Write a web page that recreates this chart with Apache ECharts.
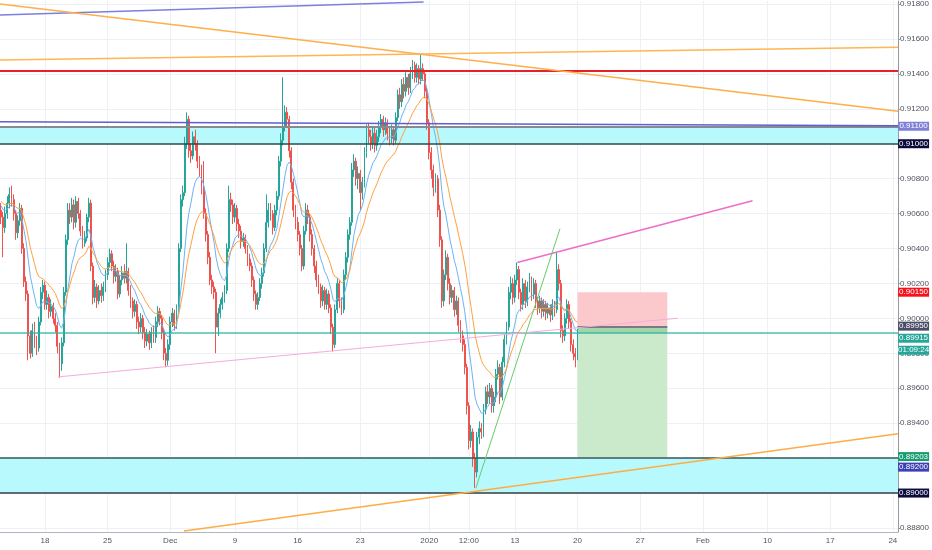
<!DOCTYPE html>
<html><head><meta charset="utf-8">
<script src="https://cdn.jsdelivr.net/npm/echarts@6/dist/echarts.min.js"></script>
<style>html,body{margin:0;padding:0;background:#fff}#c{width:932px;height:550px}</style>
</head><body><div id="c"></div>
<script>
// ---- candle data (4H bars), one bar per slot ----
const closes=[0.9058,0.9052,0.9060,0.9066,0.9071,0.9068,0.9060,0.9049,0.9056,0.9063,
0.9040,0.9021,0.9014,0.8990,0.8980,0.8993,0.8987,0.8983,0.8998,
0.9015,0.9019,0.9008,0.9012,0.9004,0.9007,0.9000,0.8996,0.8984,0.8974,
0.8986,0.9015,0.9045,0.9062,0.9058,0.9065,0.9055,0.9067,0.9060,
0.9050,0.9043,0.9046,0.9058,0.9066,0.9030,0.9012,0.9018,0.9010,0.9016,
0.9013,0.9018,0.9025,0.9032,0.9037,0.9030,0.9024,0.9027,0.9014,
0.9022,0.9026,0.9023,0.9027,0.9016,0.9010,0.9004,0.9008,0.8998,0.8995,
0.9000,0.8992,0.8987,0.8991,0.8986,0.8992,0.8989,0.8998,0.9004,
0.9000,0.8992,0.8980,0.8976,0.8985,0.8998,0.9003,0.8996,0.9005,0.9040,
0.9068,0.9072,0.9100,0.9114,0.9096,0.9093,0.9104,0.9100,0.9090,0.9085,
0.9075,0.9060,0.9048,0.9035,0.9022,0.9018,0.9015,0.8995,0.9003,
0.9008,0.9012,0.9016,0.9040,0.9068,0.9065,0.9058,0.9063,0.9054,0.9050,
0.9044,0.9046,0.9040,0.9034,0.9030,0.9022,0.9014,0.9008,0.9012,
0.9020,0.9026,0.9040,0.9055,0.9062,0.9060,0.9052,0.9062,0.9070,0.9090,
0.9102,0.9110,0.9118,0.9114,0.9096,0.9078,0.9062,0.9055,0.9048,
0.9040,0.9030,0.9050,0.9062,0.9058,0.9048,0.9040,0.9030,0.9022,0.9018,
0.9010,0.9016,0.9008,0.9014,0.9006,0.8995,0.8985,0.9005,0.9020,
0.9010,0.9005,0.9025,0.9035,0.9048,0.9055,0.9085,0.9090,0.9080,0.9083,
0.9072,0.9078,0.9095,0.9108,0.9104,0.9100,0.9106,0.9099,0.9104,
0.9110,0.9114,0.9108,0.9112,0.9106,0.9103,0.9108,0.9102,0.9115,0.9128,
0.9124,0.9134,0.9130,0.9138,0.9132,0.9140,0.9145,0.9138,0.9143,0.9137,
0.9143,0.9140,0.9130,0.9112,0.9095,0.9085,0.9075,0.9080,0.9062,
0.9045,0.9010,0.9025,0.9035,0.9020,0.9012,0.9016,0.9005,0.9010,0.8996,
0.8990,0.8985,0.8972,0.8950,0.8930,0.8935,0.8920,0.8912,0.8932,
0.8937,0.8935,0.8948,0.8958,0.8955,0.8960,0.8950,0.8955,0.8968,0.8972,
0.8955,0.8975,0.8988,0.8995,0.9015,0.9020,0.9012,0.9022,0.9028,
0.9015,0.9008,0.9020,0.9010,0.9018,0.9022,0.9014,0.9020,0.9010,0.9006,
0.9010,0.9004,0.9008,0.9003,0.9006,0.9002,0.9008,0.9005,0.9028,
0.9020,0.8993,0.8990,0.9000,0.9008,0.8998,0.8985,0.8980,0.8978,0.89915];
const opens=[0.9062,0.9058,0.9052,0.9060,0.9066,0.9071,0.9068,0.9060,0.9049,0.9056,
0.9063,0.9040,0.9021,0.9014,0.8990,0.8980,0.8993,0.8987,0.8983,
0.8998,0.9015,0.9019,0.9008,0.9012,0.9004,0.9007,0.9000,0.8996,0.8984,
0.8974,0.8986,0.9015,0.9045,0.9062,0.9058,0.9065,0.9055,0.9067,
0.9060,0.9050,0.9043,0.9046,0.9058,0.9066,0.9030,0.9012,0.9018,0.9010,
0.9016,0.9013,0.9018,0.9025,0.9032,0.9037,0.9030,0.9024,0.9027,
0.9014,0.9022,0.9026,0.9023,0.9027,0.9016,0.9010,0.9004,0.9008,0.8998,
0.8995,0.9000,0.8992,0.8987,0.8991,0.8986,0.8992,0.8989,0.8998,
0.9004,0.9000,0.8992,0.8980,0.8976,0.8985,0.8998,0.9003,0.8996,0.9005,
0.9040,0.9068,0.9072,0.9100,0.9114,0.9096,0.9093,0.9104,0.9100,0.9090,
0.9085,0.9075,0.9060,0.9048,0.9035,0.9022,0.9018,0.9015,0.8995,
0.9003,0.9008,0.9012,0.9016,0.9040,0.9068,0.9065,0.9058,0.9063,0.9054,
0.9050,0.9044,0.9046,0.9040,0.9034,0.9030,0.9022,0.9014,0.9008,
0.9012,0.9020,0.9026,0.9040,0.9055,0.9062,0.9060,0.9052,0.9062,0.9070,
0.9090,0.9102,0.9110,0.9118,0.9114,0.9096,0.9078,0.9062,0.9055,
0.9048,0.9040,0.9030,0.9050,0.9062,0.9058,0.9048,0.9040,0.9030,0.9022,
0.9018,0.9010,0.9016,0.9008,0.9014,0.9006,0.8995,0.8985,0.9005,
0.9020,0.9010,0.9005,0.9025,0.9035,0.9048,0.9055,0.9085,0.9090,0.9080,
0.9083,0.9072,0.9078,0.9095,0.9108,0.9104,0.9100,0.9106,0.9099,
0.9104,0.9110,0.9114,0.9108,0.9112,0.9106,0.9103,0.9108,0.9102,0.9115,
0.9128,0.9124,0.9134,0.9130,0.9138,0.9132,0.9140,0.9145,0.9138,0.9143,
0.9137,0.9143,0.9140,0.9130,0.9112,0.9095,0.9085,0.9075,0.9080,
0.9062,0.9045,0.9010,0.9025,0.9035,0.9020,0.9012,0.9016,0.9005,0.9010,
0.8996,0.8990,0.8985,0.8972,0.8950,0.8930,0.8935,0.8920,0.8912,
0.8932,0.8937,0.8935,0.8948,0.8958,0.8955,0.8960,0.8950,0.8955,0.8968,
0.8972,0.8955,0.8975,0.8988,0.8995,0.9015,0.9020,0.9012,0.9022,
0.9028,0.9015,0.9008,0.9020,0.9010,0.9018,0.9022,0.9014,0.9020,0.9010,
0.9006,0.9010,0.9004,0.9008,0.9003,0.9006,0.9002,0.9008,0.9005,
0.9028,0.9020,0.8993,0.8990,0.9000,0.9008,0.8998,0.8985,0.8980,0.8978];
const highs=[0.9066,0.9061,0.9064,0.9070,0.9075,0.9076,0.9071,0.9062,0.9059,0.9066,
0.9065,0.9043,0.9024,0.9016,0.8993,0.8997,0.8998,0.8990,0.9001,
0.9018,0.9022,0.9021,0.9016,0.9014,0.9011,0.9009,0.9003,0.8998,0.8986,
0.8989,0.9018,0.9048,0.9066,0.9066,0.9069,0.9068,0.9070,0.9069,
0.9062,0.9053,0.9050,0.9060,0.9069,0.9068,0.9032,0.9022,0.9020,0.9019,
0.9020,0.9021,0.9028,0.9035,0.9040,0.9039,0.9033,0.9031,0.9029,
0.9025,0.9030,0.9031,0.9043,0.9029,0.9019,0.9012,0.9011,0.9010,0.9001,
0.9003,0.9002,0.8995,0.8994,0.8993,0.8995,0.8996,0.9001,0.9007,
0.9006,0.9002,0.8994,0.8983,0.8988,0.9001,0.9006,0.9005,0.9008,0.9043,
0.9071,0.9076,0.9104,0.9118,0.9116,0.9100,0.9107,0.9108,0.9102,0.9093,
0.9088,0.9090,0.9063,0.9050,0.9038,0.9025,0.9021,0.9017,0.9006,
0.9011,0.9015,0.9019,0.9043,0.9076,0.9072,0.9068,0.9066,0.9065,0.9057,
0.9053,0.9049,0.9048,0.9042,0.9037,0.9032,0.9024,0.9016,0.9015,
0.9023,0.9029,0.9043,0.9071,0.9066,0.9066,0.9062,0.9065,0.9073,0.9093,
0.9106,0.9138,0.9122,0.9121,0.9116,0.9098,0.9080,0.9065,0.9058,
0.9050,0.9042,0.9053,0.9066,0.9065,0.9060,0.9051,0.9042,0.9033,0.9025,
0.9020,0.9019,0.9018,0.9017,0.9016,0.9008,0.8997,0.9008,0.9023,
0.9022,0.9012,0.9028,0.9038,0.9051,0.9058,0.9089,0.9094,0.9092,0.9087,
0.9085,0.9081,0.9098,0.9111,0.9112,0.9108,0.9110,0.9109,0.9108,
0.9113,0.9117,0.9116,0.9115,0.9114,0.9109,0.9111,0.9110,0.9118,0.9131,
0.9132,0.9137,0.9138,0.9141,0.9140,0.9144,0.9148,0.9147,0.9146,0.9145,
0.9151,0.9146,0.9142,0.9132,0.9114,0.9098,0.9088,0.9083,0.9082,
0.9065,0.9047,0.9028,0.9039,0.9037,0.9023,0.9019,0.9018,0.9013,0.9012,
0.8999,0.8993,0.8988,0.8974,0.8952,0.8939,0.8937,0.8923,0.8935,
0.8941,0.8940,0.8951,0.8961,0.8962,0.8963,0.8962,0.8958,0.8971,0.8976,
0.8974,0.8978,0.8991,0.8998,0.9018,0.9024,0.9023,0.9025,0.9032,
0.9030,0.9017,0.9023,0.9022,0.9021,0.9026,0.9024,0.9023,0.9022,0.9012,
0.9013,0.9012,0.9011,0.9010,0.9009,0.9008,0.9011,0.9010,0.9038,
0.9031,0.9022,0.8996,0.9003,0.9011,0.9010,0.9000,0.8988,0.8983,0.8994];
const lows=[0.9054,0.9035,0.9049,0.9057,0.9063,0.9064,0.9056,0.9045,0.9046,0.9053,
0.9037,0.9018,0.9010,0.8976,0.8977,0.8978,0.8983,0.8979,0.8981,
0.8996,0.9011,0.9005,0.9005,0.9000,0.9001,0.8997,0.8992,0.8980,0.8966,
0.8970,0.8984,0.9013,0.9042,0.9054,0.9055,0.9051,0.9052,0.9057,
0.9047,0.9040,0.9041,0.9044,0.9055,0.9027,0.9008,0.9009,0.9006,0.9008,
0.9009,0.9010,0.9015,0.9022,0.9029,0.9027,0.9020,0.9021,0.9011,
0.9012,0.9019,0.9020,0.9020,0.9013,0.9006,0.9000,0.9001,0.8994,0.8991,
0.8992,0.8988,0.8983,0.8984,0.8982,0.8983,0.8986,0.8986,0.8995,
0.8996,0.8988,0.8976,0.8972,0.8973,0.8982,0.8995,0.8993,0.8994,0.9003,
0.9038,0.9064,0.9070,0.9097,0.9092,0.9089,0.9091,0.9096,0.9086,0.9081,
0.9071,0.9057,0.9044,0.9031,0.9019,0.9014,0.9011,0.8980,0.8990,
0.9000,0.9005,0.9009,0.9014,0.9038,0.9061,0.9054,0.9055,0.9050,0.9046,
0.9040,0.9041,0.9037,0.9030,0.9027,0.9018,0.9010,0.9005,0.9005,
0.9010,0.9017,0.9024,0.9038,0.9052,0.9056,0.9048,0.9050,0.9059,0.9068,
0.9087,0.9099,0.9107,0.9110,0.9092,0.9074,0.9058,0.9051,0.9044,
0.9036,0.9027,0.9028,0.9048,0.9054,0.9044,0.9036,0.9026,0.9018,0.9014,
0.9006,0.9007,0.9005,0.9005,0.9003,0.8991,0.8981,0.8983,0.9003,
0.9006,0.9002,0.9003,0.9022,0.9032,0.9045,0.9053,0.9081,0.9076,0.9074,
0.9062,0.9068,0.9075,0.9092,0.9100,0.9096,0.9097,0.9095,0.9096,
0.9101,0.9106,0.9104,0.9105,0.9102,0.9099,0.9100,0.9099,0.9100,0.9113,
0.9120,0.9121,0.9126,0.9127,0.9128,0.9129,0.9137,0.9135,0.9135,0.9134,
0.9134,0.9136,0.9126,0.9108,0.9091,0.9080,0.9070,0.9072,0.9058,
0.9041,0.9006,0.9007,0.9022,0.9016,0.9008,0.9009,0.9001,0.9002,0.8992,
0.8986,0.8981,0.8968,0.8945,0.8925,0.8926,0.8915,0.8903,0.8909,
0.8928,0.8931,0.8932,0.8945,0.8951,0.8951,0.8946,0.8946,0.8952,0.8965,
0.8951,0.8953,0.8972,0.8985,0.8993,0.9011,0.9008,0.9009,0.9019,
0.9011,0.9004,0.9005,0.9006,0.9007,0.9015,0.9010,0.9011,0.9006,0.9002,
0.9003,0.9000,0.9001,0.8999,0.9000,0.8998,0.8999,0.9001,0.9003,
0.9016,0.8989,0.8986,0.8987,0.8997,0.8994,0.8981,0.8976,0.8972,0.8976];

// ---- axes ----
const slotCount=430;
const xTickIndex=[21,51,81,112,142,172,205,224,246,276,306,336,367,397,427];
const xTickLabels=['18','25','Dec','9','16','23','2020','12:00','13','20','27','Feb','10','17','24'];
const yTicks=[0.888,0.890,0.892,0.894,0.896,0.898,0.900,0.902,0.904,0.906,0.908,0.910,0.912,0.914,0.916,0.918];
const yMin=0.88777, yMax=0.91817;

// ---- moving averages ----
const emaFastPeriod=10, emaSlowPeriod=20;
const emaFastSeed=0.9066, emaSlowSeed=0.9068;

// ---- drawings (x in bar slots, y in price) ----
const lineTopPurple=[[-0.5,0.91737],[202.3,0.91811]];
const lineOrangeFlat=[[-0.5,0.91479],[429.5,0.91552]];
const lineOrangeDesc=[[-0.5,0.91800],[429.5,0.91186]];
const lineZoneBlue=[[-0.5,0.91126],[429.5,0.91103]];
const linePinkLow=[[27.2,0.89665],[324.0,0.90001]];
const linePinkHigh=[[247.2,0.90320],[359.8,0.90674]];
const lineGreen=[[227.3,0.89027],[267.6,0.90513]];
const lineOrangeLow=[[87.6,0.88783],[429.5,0.89340]];
const redLevel=0.9142;
const zoneUpper=[0.9100,0.9110];
const zoneLower=[0.8900,0.8920];
const posX=[276,319];
const posStop=0.9015, posEntry=0.8995, posTarget=0.89203;
const lastPrice=0.89915;
const countdownText='01:09:24';

function ema(vals,period,seed){const k=2/(period+1);let e=seed;return vals.map((v,i)=>{e=e+k*(v-e);return [i,+e.toFixed(6)];});}
const candleData=closes.map((c,i)=>[i,opens[i],c,lows[i],highs[i]]);

const FONT='Liberation Sans';
function trend(data,color,width){return {type:'line',data:data,symbol:'none',silent:true,z:6,animation:false,lineStyle:{color:color,width:width}};}
function tag(price,text,bg,dy){return {coord:[429.5,price],symbol:'rect',symbolSize:[31,9],symbolOffset:[15.5,dy],
  itemStyle:{color:bg},label:{show:true,position:'inside',formatter:text,color:'#ffffff',fontSize:8,fontFamily:FONT}};}

const chart=echarts.init(document.getElementById('c'),null,{renderer:'canvas'});
chart.setOption({
  animation:false,
  backgroundColor:'#ffffff',
  grid:{left:0,right:31,top:0,bottom:18,containLabel:false},
  xAxis:{type:'value',min:-0.5,max:slotCount-0.5,
    axisLine:{show:true,onZero:false,lineStyle:{color:'#b2b5be'}},
    axisTick:{show:false,customValues:xTickIndex},
    splitLine:{show:true,lineStyle:{color:'#edf0f5'}},
    axisLabel:{customValues:xTickIndex,fontSize:8,color:'#50535e',fontFamily:FONT,margin:5,
      formatter:v=>xTickLabels[xTickIndex.indexOf(Math.round(v))]||''}},
  yAxis:{type:'value',position:'right',min:yMin,max:yMax,scale:true,
    axisLine:{show:true,onZero:false,lineStyle:{color:'#9598a1'}},
    axisTick:{show:true,length:2,customValues:yTicks,lineStyle:{color:'#9598a1'}},
    splitLine:{show:true,lineStyle:{color:'#edf0f5'}},
    axisLabel:{customValues:yTicks,fontSize:8,color:'#50535e',fontFamily:FONT,margin:2,
      formatter:v=>v.toFixed(5)}},
  series:[
    {type:'line',name:'zones',data:[],silent:true,z:1,
      markArea:{silent:true,data:[
        [{coord:[-0.5,zoneUpper[0]],itemStyle:{color:'#b8f9fd'}},{coord:[429.5,zoneUpper[1]]}],
        [{coord:[-0.5,zoneLower[0]],itemStyle:{color:'#b8f9fd'}},{coord:[429.5,zoneLower[1]]}],
        [{coord:[posX[0],posEntry],itemStyle:{color:'#fbc9cc'}},{coord:[posX[1],posStop]}],
        [{coord:[posX[0],posTarget],itemStyle:{color:'#cbe9cb'}},{coord:[posX[1],posEntry]}],
        [{coord:[posX[0],lastPrice],itemStyle:{color:'#a3d6a6'}},{coord:[posX[1],posEntry]}]
      ]},
      markLine:{silent:true,symbol:'none',precision:6,label:{show:false},data:[
        {yAxis:zoneUpper[1],lineStyle:{color:'#858b90',width:2,type:'solid'}},
        {yAxis:zoneUpper[0],lineStyle:{color:'#2b4a4c',width:1.5,type:'solid'}},
        {yAxis:zoneLower[1],lineStyle:{color:'#35575a',width:1.5,type:'solid'}},
        {yAxis:zoneLower[0],lineStyle:{color:'#3a3f44',width:1.5,type:'solid'}}
      ]}},
    {type:'candlestick',name:'price',data:candleData,encode:{x:0,y:[1,2,3,4]},barWidth:1.4,z:3,
      itemStyle:{color:'#26a69a',color0:'#ef5350',borderColor:'#26a69a',borderColor0:'#ef5350',borderWidth:1}},
    {type:'line',name:'EMA10',data:ema(closes,emaFastPeriod,emaFastSeed),symbol:'none',z:4,silent:true,
      lineStyle:{color:'#6cb4f5',width:1}},
    {type:'line',name:'EMA20',data:ema(closes,emaSlowPeriod,emaSlowSeed),symbol:'none',z:4,silent:true,
      lineStyle:{color:'#ffa040',width:1}},
    trend(lineTopPurple,'#7c7fe0',1.5),
    trend(lineOrangeFlat,'#ffb552',1.5),
    trend(lineOrangeDesc,'#ffae4a',1.5),
    trend(lineZoneBlue,'#5d5fd2',1.5),
    trend(linePinkLow,'#f7abdc',1),
    trend(linePinkHigh,'#f06cc9',1.5),
    trend(lineGreen,'#66cc6e',1),
    trend(lineOrangeLow,'#ffac45',1.5),
    {type:'line',name:'levels',data:[],silent:true,z:7,clip:false,
      markLine:{silent:true,symbol:'none',precision:6,label:{show:false},data:[
        {yAxis:redLevel,lineStyle:{color:'#e8202a',width:2,type:'solid'}},
        {yAxis:lastPrice,lineStyle:{color:'#2bb3a5',width:1.5,type:'solid',opacity:0.85}},
        [{coord:[posX[0],posEntry],lineStyle:{color:'#787b86',width:2,type:'solid'}},{coord:[posX[1],posEntry]}]
      ]},
      markPoint:{silent:true,data:[
        tag(0.9110,'0.91100','#7f81d9',0),
        tag(0.9100,'0.91000','#0b0c3c',0),
        tag(posStop,posStop.toFixed(5),'#f7121c',0),
        tag(posEntry,posEntry.toFixed(5),'#4a4d68',-1),
        tag(lastPrice,lastPrice.toFixed(5),'#26a69a',5),
        tag(lastPrice,countdownText,'#26a69a',17),
        tag(posTarget,posTarget.toFixed(5),'#169c6e',-1),
        tag(zoneLower[1],zoneLower[1].toFixed(5),'#3d40b2',9),
        tag(zoneLower[0],zoneLower[0].toFixed(5),'#0b0c3c',0)
      ]}}
  ]
});
</script></body></html>
